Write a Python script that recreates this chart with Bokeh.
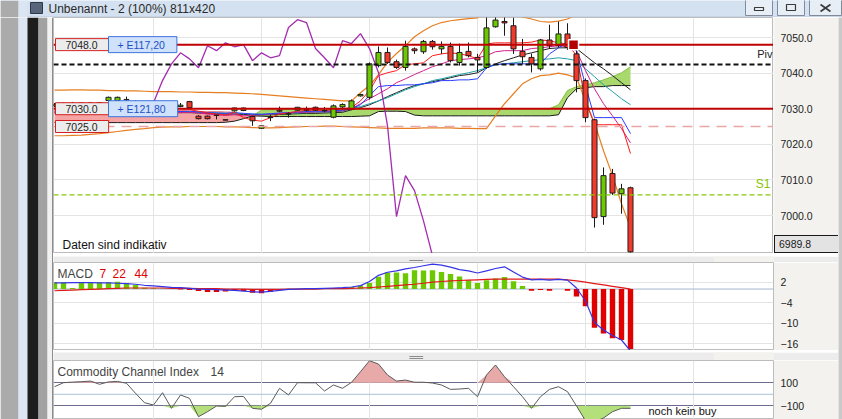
import numpy as np
from bokeh.plotting import figure
from bokeh.layouts import column, row
from bokeh.models import Range1d, FixedTicker, Span, Label, Grid, NumeralTickFormatter, Div
from bokeh.embed import file_html
from bokeh.resources import INLINE

# ------------------------------------------------------------------ data
price_ticks = [7000, 7010, 7020, 7030, 7040, 7050]
macd_ticks = [-16, -10, -4, 2]
cci_ticks = [-100, 100]
time_ticks = [11, 23, 35, 47, 59, 71]          # candle index of vertical time grid lines

opens = [7030.8, 7031.2, 7031.5, 7031.1, 7031.6, 7031.3, 7032.3, 7032.3, 7032.5, 7032.0,
         7031.4, 7030.8, 7031.0, 7030.7, 7030.6, 7032.0, 7027.9, 7027.9, 7028.2, 7026.9,
         7029.4, 7029.5, 7027.8, 7024.5, 7027.5, 7029.6, 7028.5, 7029.6, 7029.8, 7030.4,
         7029.5, 7027.6, 7030.5, 7029.9, 7033.6, 7033.2, 7042.1, 7045.8, 7043.2, 7041.6,
         7046.8, 7046.0, 7048.9, 7046.8, 7047.5, 7043.0, 7046.1, 7044.4, 7041.6, 7053.0,
         7054.5, 7053.3, 7046.1, 7044.4, 7041.2, 7049.3, 7047.7, 7051.0, 7045.4, 7037.9,
         7026.9, 6999.7, 7011.8, 7006.1, 7007.8]
highs = [7031.6, 7031.8, 7031.9, 7031.8, 7031.9, 7031.9, 7033.4, 7033.4, 7033.4, 7032.4,
         7031.8, 7031.4, 7031.6, 7031.2, 7031.6, 7032.2, 7028.2, 7028.1, 7028.3, 7027.0,
         7030.3, 7030.3, 7028.0, 7025.3, 7028.3, 7030.6, 7029.0, 7030.5, 7030.6, 7030.6,
         7030.5, 7031.2, 7031.5, 7032.6, 7034.2, 7043.0, 7047.5, 7047.2, 7043.8, 7049.1,
         7047.2, 7049.3, 7049.3, 7048.9, 7048.6, 7048.3, 7048.6, 7045.4, 7056.0, 7056.0,
         7055.8, 7055.6, 7049.6, 7045.5, 7049.6, 7053.6, 7054.5, 7054.0, 7046.8, 7038.5,
         7027.2, 7013.5, 7013.1, 7008.9, 7008.1]
lows = [7030.4, 7030.8, 7030.9, 7030.8, 7031.0, 7031.0, 7032.0, 7032.1, 7032.2, 7031.0,
        7030.4, 7030.2, 7030.5, 7030.2, 7030.4, 7030.2, 7027.0, 7027.0, 7027.0, 7026.7,
        7029.2, 7029.3, 7025.2, 7024.3, 7026.5, 7029.0, 7027.5, 7029.4, 7029.2, 7029.4,
        7029.0, 7027.3, 7030.0, 7029.6, 7033.4, 7032.6, 7041.6, 7042.6, 7041.2, 7040.7,
        7045.4, 7045.4, 7046.6, 7045.4, 7043.0, 7042.1, 7044.4, 7040.2, 7041.2, 7052.8,
        7050.5, 7045.4, 7042.6, 7040.2, 7040.7, 7046.8, 7047.2, 7046.5, 7034.6, 7026.2,
        6996.6, 6997.4, 7005.8, 7000.5, 6989.6]
closes = [7031.2, 7031.5, 7031.1, 7031.6, 7031.3, 7031.7, 7033.2, 7033.2, 7032.6, 7031.4,
          7030.8, 7031.0, 7030.7, 7030.9, 7031.0, 7030.3, 7027.2, 7027.2, 7028.1, 7026.8,
          7030.2, 7030.2, 7026.6, 7025.2, 7027.6, 7029.3, 7028.6, 7030.4, 7029.6, 7029.6,
          7029.4, 7030.8, 7031.2, 7032.2, 7034.0, 7042.6, 7045.8, 7043.0, 7041.6, 7047.5,
          7046.3, 7048.9, 7047.4, 7047.5, 7043.5, 7045.8, 7044.9, 7043.7, 7052.7, 7054.9,
          7054.1, 7046.8, 7044.6, 7042.6, 7049.3, 7047.7, 7051.0, 7047.2, 7037.9, 7027.5,
          6999.4, 7011.2, 7006.3, 7007.5, 6989.8]

ma_red = [7029.6, 7029.7, 7029.8, 7029.8, 7029.9, 7029.9, 7030.0, 7030.1, 7030.1, 7030.0,
          7029.8, 7029.6, 7029.6, 7029.5, 7029.6, 7029.7, 7029.3, 7028.8, 7028.5, 7028.2,
          7029.0, 7027.5, 7026.8, 7026.5, 7027.5, 7028.5, 7028.8, 7029.3, 7029.5, 7029.6,
          7029.5, 7029.7, 7030.0, 7030.3, 7032.2, 7035.1, 7039.3, 7040.1, 7040.7, 7042.4,
          7042.6, 7042.9, 7044.9, 7045.4, 7045.7, 7045.4, 7044.9, 7044.0, 7048.2, 7048.5,
          7048.5, 7048.5, 7048.5, 7048.7, 7049.3, 7049.1, 7048.5, 7048.2, 7044.9, 7032.2,
          7025.5, 7025.5, 7025.5, 7025.5, 7017.4]
ma_blue = [7029.2, 7029.3, 7029.3, 7029.4, 7029.4, 7029.5, 7029.5, 7029.6, 7029.6, 7029.5,
           7029.4, 7029.3, 7029.3, 7029.2, 7029.2, 7029.3, 7029.1, 7028.9, 7028.8, 7028.7,
           7028.9, 7028.7, 7028.5, 7028.4, 7028.6, 7028.8, 7028.9, 7029.1, 7029.2, 7029.3,
           7029.3, 7029.4, 7029.6, 7030.0, 7031.1, 7033.7, 7036.2, 7036.5, 7036.5, 7036.7,
           7036.7, 7037.0, 7037.3, 7037.9, 7037.9, 7038.1, 7038.1, 7038.4, 7041.5, 7042.4,
           7042.6, 7042.6, 7042.6, 7042.6, 7042.6, 7045.4, 7047.1, 7048.5, 7046.3, 7036.5,
           7027.5, 7027.5, 7027.5, 7027.5, 7023.0]
ma_pink = [7028.9, 7029.0, 7029.0, 7029.1, 7029.1, 7029.2, 7029.2, 7029.3, 7029.3, 7029.2,
           7029.1, 7029.0, 7029.0, 7028.9, 7028.9, 7029.0, 7028.8, 7028.5, 7028.3, 7028.1,
           7028.3, 7028.0, 7028.2, 7028.3, 7028.5, 7028.7, 7028.8, 7028.9, 7029.0, 7029.1,
           7029.1, 7029.2, 7029.4, 7030.0, 7031.4, 7032.8, 7034.2, 7035.6, 7037.3, 7038.4,
           7039.6, 7040.7, 7041.8, 7042.6, 7043.5, 7043.8, 7044.0, 7044.3, 7044.9, 7046.0,
           7046.3, 7046.3, 7046.3, 7046.9, 7047.1, 7047.4, 7047.7, 7047.4, 7046.3, 7040.7,
           7035.6, 7031.4, 7028.0, 7024.4, 7020.4]
ma_teal = [7029.0, 7029.0, 7029.1, 7029.1, 7029.2, 7029.2, 7029.3, 7029.3, 7029.3, 7029.3,
           7029.2, 7029.2, 7029.1, 7029.1, 7029.1, 7029.1, 7029.0, 7028.9, 7028.8, 7028.7,
           7028.7, 7028.6, 7028.5, 7028.5, 7028.5, 7028.6, 7028.7, 7028.8, 7028.9, 7029.0,
           7029.0, 7029.1, 7029.3, 7030.0, 7030.6, 7031.4, 7032.2, 7033.1, 7034.2, 7035.3,
           7036.2, 7037.0, 7037.9, 7038.4, 7039.0, 7039.6, 7040.1, 7040.7, 7041.5, 7042.4,
           7042.6, 7042.9, 7043.2, 7043.5, 7043.8, 7044.0, 7044.3, 7044.0, 7043.5, 7041.2,
           7039.0, 7036.7, 7034.8, 7032.8, 7031.1]
ma_black = [7028.8, 7028.8, 7028.9, 7028.9, 7029.0, 7029.0, 7029.0, 7029.1, 7029.1, 7029.1,
            7029.0, 7029.0, 7029.0, 7028.9, 7028.9, 7028.9, 7028.8, 7028.7, 7028.6, 7028.5,
            7028.5, 7028.4, 7028.3, 7028.3, 7028.3, 7028.4, 7028.5, 7028.6, 7028.7, 7028.7,
            7028.8, 7028.9, 7029.0, 7029.7, 7030.3, 7031.1, 7032.2, 7033.4, 7034.5, 7035.6,
            7036.5, 7037.0, 7037.6, 7038.1, 7038.7, 7039.3, 7039.6, 7040.1, 7041.5, 7042.6,
            7043.5, 7044.3, 7045.1, 7045.7, 7046.3, 7046.9, 7047.1, 7047.1, 7046.9, 7044.9,
            7042.9, 7041.2, 7039.3, 7037.3, 7035.3]
bb_upper = [7035.2, 7035.2, 7035.3, 7035.3, 7035.2, 7035.2, 7035.1, 7035.1, 7035.0, 7035.0,
            7034.9, 7034.8, 7034.8, 7034.8, 7034.7, 7034.7, 7034.6, 7034.6, 7034.5, 7034.5,
            7034.4, 7034.3, 7034.2, 7034.0, 7033.8, 7033.6, 7033.4, 7033.2, 7033.0, 7032.8,
            7032.6, 7032.4, 7032.2, 7032.2, 7034.5, 7036.5, 7039.6, 7043.0, 7045.5, 7047.7,
            7050.2, 7051.9, 7053.3, 7054.2, 7054.7, 7055.0, 7055.3, 7055.5, 7057.0, 7058.0,
            7058.0, 7057.0, 7055.8, 7055.2, 7054.5, 7054.3, 7054.6, 7055.2, 7056.5, 7060.0,
            7064.0, 7066.0, 7067.0, 7068.0, 7069.0]
bb_lower = [7022.4, 7022.4, 7022.5, 7022.6, 7022.8, 7023.0, 7023.3, 7023.6, 7023.9, 7024.2,
            7024.4, 7024.7, 7024.8, 7024.9, 7024.9, 7025.0, 7025.0, 7025.0, 7025.0, 7024.9,
            7024.9, 7024.8, 7024.7, 7024.6, 7024.6, 7024.7, 7024.8, 7024.9, 7025.0, 7025.0,
            7025.1, 7025.1, 7025.0, 7024.9, 7024.8, 7024.7, 7024.6, 7024.5, 7024.5, 7024.5,
            7024.5, 7024.6, 7024.6, 7024.6, 7024.6, 7024.5, 7024.5, 7024.4, 7024.4, 7028.0,
            7031.4, 7034.2, 7037.0, 7038.4, 7039.3, 7039.5, 7040.0, 7039.5, 7038.7, 7032.2,
            7026.0, 7018.2, 7011.2, 7003.3, 6996.6]
span_a = [7029.4, 7029.4, 7029.5, 7029.5, 7029.5, 7029.6, 7029.6, 7029.6, 7029.5, 7029.5,
          7029.4, 7029.4, 7029.4, 7029.3, 7029.3, 7029.3, 7029.2, 7029.2, 7029.2, 7029.1,
          7029.0, 7028.3, 7028.0, 7029.6, 7029.7, 7029.7, 7029.8, 7029.8, 7029.9, 7029.9,
          7029.9, 7030.0, 7030.0, 7030.0, 7030.0, 7030.0, 7030.0, 7030.0, 7030.0, 7030.0,
          7030.0, 7030.0, 7030.0, 7030.0, 7030.0, 7030.0, 7030.0, 7030.0, 7030.0, 7030.0,
          7030.0, 7030.0, 7030.0, 7030.0, 7030.0, 7030.0, 7031.1, 7035.1, 7036.2, 7036.7,
          7037.3, 7038.1, 7039.0, 7040.1, 7041.8]
span_b = [7026.1, 7026.1, 7026.1, 7026.1, 7026.1, 7026.1, 7026.1, 7026.1, 7026.1, 7026.1,
          7026.1, 7026.1, 7026.1, 7026.1, 7026.1, 7026.1, 7026.1, 7026.1, 7026.1, 7026.2,
          7026.5, 7027.2, 7028.0, 7027.9, 7027.8, 7027.8, 7027.8, 7027.8, 7027.8, 7027.8,
          7027.8, 7027.8, 7027.8, 7027.8, 7027.9, 7028.0, 7029.2, 7029.3, 7029.3, 7029.2,
          7028.2, 7028.0, 7028.0, 7028.0, 7028.0, 7028.0, 7028.0, 7028.0, 7028.0, 7028.0,
          7028.0, 7028.0, 7028.0, 7028.0, 7028.0, 7028.0, 7028.3, 7033.1, 7035.6, 7035.9,
          7036.2, 7036.2, 7036.5, 7036.5, 7036.5]
cloud_switch = 22          # candle where the cloud turns from red to green

osc_idx = list(range(11, 43))
osc_vals = [7031.7, 7037.9, 7042.6, 7045.7, 7044.0, 7041.5, 7047.7, 7046.3, 7048.5, 7047.4,
            7048.0, 7043.5, 7045.7, 7044.3, 7044.9, 7052.8, 7055.0, 7054.2, 7046.9, 7044.3,
            7041.5, 7049.1, 7048.3, 7051.1, 7046.9, 7040.1, 7025.2, 6999.7, 7011.2, 7007.0,
            6998.5, 6988.7]

position_level, position_pnl = 7048.0, "+ E117,20"
entry_level, entry_pnl = 7030.0, "+ E121,80"
stop_level = 7025.0
pivot_level = 7042.4
s1_level = 7005.8
last_price = 6989.8
trade_x = [57.67]
trade_y = [7048.0]

macd_hist = [2.0, 2.0, 0.3, 2.0, 2.0, 2.0, 2.0, 2.1, 1.8, 1.2,
             0.4, 0.2, 0.1, 0.0, -0.1, -0.3, -0.6, -0.9, -0.9, -0.7,
             -0.3, -0.6, -1.1, -1.2, -0.8, -0.3, 0.1, 0.1, 0.1, 0.0,
             0.2, 0.3, 0.4, 0.6, 1.0, 1.8, 3.6, 4.8, 4.8, 4.6,
             5.5, 5.4, 5.5, 5.0, 4.4, 3.7, 2.6, 1.8, 2.6, 3.1,
             3.5, 2.3, 0.9, -0.5, -0.3, -0.5, 0.0, -0.5, -2.2, -5.0,
             -11.3, -13.0, -14.4, -14.9, -17.5]
macd_line = [1.8, 1.8, 1.9, 1.9, 1.9, 1.8, 1.8, 1.7, 1.6, 1.4,
             1.1, 0.9, 0.7, 0.5, 0.4, 0.2, 0.0, -0.1, -0.2, -0.3,
             -0.4, -0.6, -0.8, -0.9, -0.7, -0.4, -0.1, 0.0, 0.1, 0.1,
             0.2, 0.3, 0.4, 0.6, 1.0, 2.2, 4.0, 4.9, 5.3, 5.9,
             6.3, 6.8, 7.3, 7.0, 6.4, 5.7, 5.3, 4.7, 5.3, 6.0,
             6.5, 5.0, 3.5, 2.7, 2.8, 2.6, 2.8, 2.6, 0.3, -3.5,
             -9.8, -12.0, -13.6, -14.9, -18.1]
macd_signal = [-0.5, -0.4, -0.3, -0.2, -0.1, 0.0, 0.1, 0.2, 0.3, 0.3,
               0.3, 0.3, 0.3, 0.2, 0.2, 0.2, 0.1, 0.1, 0.1, 0.0,
               0.0, 0.0, -0.1, -0.1, -0.1, -0.1, 0.0, 0.0, 0.0, 0.0,
               0.1, 0.1, 0.1, 0.2, 0.3, 0.4, 0.6, 0.8, 1.0, 1.2,
               1.4, 1.7, 2.0, 2.2, 2.4, 2.5, 2.6, 2.7, 2.8, 2.9,
               2.9, 2.9, 2.9, 2.9, 2.9, 2.9, 2.9, 2.7, 2.4, 2.0,
               1.6, 1.2, 0.8, 0.4, 0.0]
cci_vals = [66, 101, 106, 110, 115, 87, 108, 112, 96, 9,
            -73, -93, 14, -122, -6, -35, -195, -151, -102, -105,
            -21, -18, -122, -130, -78, 52, -6, 101, 100, 100,
            29, 81, 52, 104, 197, 292, 263, 168, 115, 124,
            105, 105, 98, 81, 43, 46, 52, -21, 168, 255,
            153, 66, -21, -122, -21, 43, 66, 23, -101, -230,
            -240, -206, -151, -122, -122]
cci_upper, cci_lower = 100, -100

# ------------------------------------------------------------------ geometry / style
FONT = "Liberation Sans"
AXIS_BG = "#f3f2ee"
PANEL_W, AXIS_W, LEFT_W, RIGHT_W = 720, 65, 53, 4
TITLE_H, MAIN_H, SEP1_H, MACD_H, SEP2_H, CCI_H = 17, 236, 9, 88, 10, 59
BOX_H = 18                      # height of the last-price box under the price scale
TOTAL_W = LEFT_W + PANEL_W + AXIS_W + RIGHT_W
X0 = -1.0 / 9.0
X1 = X0 + PANEL_W / 9.0
GRID = "#e4e4e4"
PRICE_TOP, PRICE_BOTTOM = 7055.62, 6989.33
PX_PER_PT = MAIN_H / (PRICE_TOP - PRICE_BOTTOM)
CCI_RANGE = (-219.1, 294.0)

idx = np.arange(len(opens))


def style_axis(ax, ticks, fmt=None, standoff=7):
    ax.ticker = FixedTicker(ticks=ticks)
    if fmt is not None:
        ax.formatter = fmt
    ax.axis_line_color = None
    ax.major_tick_line_color = None
    ax.minor_tick_line_color = None
    ax.major_tick_in = 0
    ax.major_tick_out = 0
    ax.major_label_standoff = standoff
    ax.major_label_text_font = FONT
    ax.major_label_text_font_size = "10.5px"
    ax.major_label_text_color = "#222222"


def panel(h, yr, ticks, fmt=None, with_axis=True):
    p = figure(width=PANEL_W + (AXIS_W if with_axis else 0), height=h,
               x_range=Range1d(X0, X1), y_range=yr,
               output_backend="svg", toolbar_location=None,
               x_axis_location=None, y_axis_location="right" if with_axis else None,
               min_border=0, min_border_right=AXIS_W if with_axis else 0)
    p.background_fill_color = "white"
    p.border_fill_color = AXIS_BG
    p.outline_line_color = "#bcbcbc"
    if with_axis:
        style_axis(p.yaxis[0], ticks, fmt)
    p.xgrid.grid_line_color = None
    p.ygrid.ticker = FixedTicker(ticks=ticks)
    p.ygrid.grid_line_color = GRID
    p.add_layout(Grid(dimension=0, ticker=FixedTicker(ticks=time_ticks), grid_line_color=GRID))
    return p


def lbl(p, x, y, text, xo=0, yo=0, size="12px", color="#333333", align="left",
        baseline="middle", **kw):
    p.add_layout(Label(x=x, y=y, x_offset=xo, y_offset=yo, text=text, text_font=FONT,
                       text_font_size=size, text_color=color, text_align=align,
                       text_baseline=baseline, **kw))


def chrome(w, h, bg):
    f = figure(width=w, height=h, x_range=Range1d(0, w), y_range=Range1d(h, 0),
               output_backend="svg", toolbar_location=None, x_axis_location=None,
               y_axis_location=None, min_border=0)
    f.grid.visible = False
    f.outline_line_color = None
    f.background_fill_color = bg
    f.border_fill_color = bg
    return f


# ------------------------------------------------------------------ title bar
tb = chrome(TOTAL_W, TITLE_H, "#d4e1f0")
tb.quad(left=[0, 18], right=[18, 27], top=[0, 0], bottom=[TITLE_H, TITLE_H],
        fill_color=["#ababab", "#dce6f2"], line_color=None)
tb.quad(left=[27], right=[TOTAL_W], top=[16], bottom=[17], fill_color="#b9c8da", line_color=None)
tb.quad(left=[30], right=[42], top=[2], bottom=[13], fill_color="#56657a", line_color="#2e3848")
tb.quad(left=[745, 777, 809], right=[772, 804, 841], top=[-2, -2, -2], bottom=[15, 15, 15],
        fill_color="#e8eef6", line_color="#7f8b9b")
tb.quad(left=[754, 786], right=[763, 795], top=[7, 4], bottom=[10, 10],
        fill_color=None, line_color="#3a3a3a", line_width=1.2)
tb.segment(x0=[820, 820], y0=[4, 11], x1=[830, 830], y1=[11, 4], line_color="#3a3a3a",
           line_width=1.6)
tb.add_layout(Label(x=48, y=8, text="Unbenannt - 2 (100%) 811x420", text_font=FONT,
                    text_font_size="12px", text_color="#2a2a2a", text_baseline="middle"))

# ------------------------------------------------------------------ left / right window chrome
body_h = MAIN_H + SEP1_H + MACD_H + SEP2_H + CCI_H
deco = chrome(LEFT_W, body_h, "#efefef")
deco.quad(left=[0, 18, 27, 38, 47, 52], right=[18, 27, 38, 47, 52, 53],
          top=[0] * 6, bottom=[body_h] * 6,
          fill_color=["#ababab", "#dce6f2", "#1d1d1d", "#a2a2a2", "#f2f2f2", "#2a2a2a"],
          line_color=None)
rdeco = chrome(RIGHT_W, body_h, "#c9c9c9")

# ------------------------------------------------------------------ main price chart
main = panel(MAIN_H, Range1d(PRICE_BOTTOM, PRICE_TOP), price_ticks, with_axis=False)

sa, sb = np.array(span_a), np.array(span_b)
k = cloud_switch
main.varea(x=idx[:k + 1], y1=sb[:k + 1], y2=sa[:k + 1], fill_color="#f5a3a3")
main.varea(x=idx[k:], y1=sb[k:], y2=sa[k:], fill_color="#a9d96c")
main.line(idx[k:], sa[k:], line_color="#86c040", line_width=1)
main.line(idx[:k + 1], sa[:k + 1], line_color="#e48080", line_width=1)
main.line(idx, sb, line_color="#1a1a1a", line_width=1)

main.line(idx, bb_upper, line_color="#e67e22", line_width=1.2)
main.line(idx, bb_lower, line_color="#e67e22", line_width=1.2)
main.line(idx, ma_black, line_color="#202020", line_width=1)
main.line(idx, ma_teal, line_color="#1fa0a8", line_width=1)
main.line(idx, ma_pink, line_color="#d0208c", line_width=1)
main.line(idx, ma_blue, line_color="#2a3cff", line_width=1)
main.line(idx, ma_red, line_color="#ff1a1a", line_width=1)
main.line(osc_idx, osc_vals, line_color="#a42cb0", line_width=1.3)

o, c = np.array(opens), np.array(closes)
up = c >= o
top_b, bot_b = np.maximum(o, c), np.minimum(o, c)
main.segment(x0=idx, y0=lows, x1=idx, y1=highs, line_color="#1a1a1a", line_width=1)
main.vbar(x=idx[up], top=top_b[up], bottom=bot_b[up], width=0.56,
          fill_color="#6cc800", line_color="#1f1f1f", line_width=1)
main.vbar(x=idx[~up], top=top_b[~up], bottom=bot_b[~up], width=0.56,
          fill_color="#ef3b2c", line_color="#2a1a1a", line_width=1)

main.add_layout(Span(location=stop_level, dimension="width", line_color="#e8a6a6",
                     line_width=1.5, line_dash="10 7"))
main.add_layout(Span(location=s1_level, dimension="width", line_color="#86cc00",
                     line_width=1.3, line_dash="5 3"))
main.add_layout(Span(location=pivot_level, dimension="width", line_color="#111111",
                     line_width=2, line_dash="5 3"))
main.add_layout(Span(location=position_level, dimension="width", line_color="#c00000", line_width=2))
main.add_layout(Span(location=entry_level, dimension="width", line_color="#c00000", line_width=2))

mk = main.scatter(trade_x, trade_y, marker="square", size=10, fill_color="#b40000",
                  line_color="white", line_width=1.5)
mk.level = "overlay"

for lev, pnl in [(position_level, position_pnl), (entry_level, entry_pnl), (stop_level, None)]:
    lbl(main, X0, lev, f"{lev:.1f}", xo=2, size="10.5px", color="#1e1e1e",
        background_fill_color="#ececec", border_line_color="#d42020", border_line_width=1,
        padding=dict(left=10, right=11, top=2, bottom=2))
    if pnl:
        lbl(main, X0, lev, pnl, xo=55, size="10.5px", color="#1c4fc4",
            background_fill_color="#cfe1fb", border_line_color="#3d74dc", border_line_width=1,
            padding=dict(left=9, right=12, top=2, bottom=2))

lbl(main, X1, pivot_level, "Piv", xo=-1, yo=11, size="11px", color="#222222", align="right")
lbl(main, X1, s1_level, "S1", xo=-3, yo=11, size="12px", color="#86c400", align="right")
lbl(main, X0, PRICE_BOTTOM, "Daten sind indikativ", xo=9, yo=9, size="12px", color="#111111")

# price scale of the main chart (same points-per-pixel as the chart) + last price box
scale_h = MAIN_H - BOX_H
main_scale = figure(width=AXIS_W, height=scale_h, x_range=Range1d(0, 1),
                    y_range=Range1d(PRICE_TOP - scale_h / PX_PER_PT, PRICE_TOP),
                    output_backend="svg", toolbar_location=None, x_axis_location=None,
                    y_axis_location="right", min_border=0, min_border_right=AXIS_W - 1)
main_scale.grid.visible = False
main_scale.outline_line_color = None
main_scale.background_fill_color = AXIS_BG
main_scale.border_fill_color = AXIS_BG
style_axis(main_scale.yaxis[0], price_ticks, NumeralTickFormatter(format="0.0"), standoff=6)

last_box = Div(text=f"{last_price:.1f}", width=AXIS_W - 1, height=BOX_H, margin=(0, 0, 0, 1),
               styles={"background-color": "#e3e3e3", "border": "1px solid #1a1a1a",
                       "border-right": "none", "box-sizing": "border-box",
                       "font-family": FONT, "font-size": "10.5px", "color": "#1a1a1a",
                       "line-height": "16px", "padding-left": "4px", "overflow": "hidden",
                       "white-space": "nowrap"})


# ------------------------------------------------------------------ separators
def separator(h):
    s = chrome(PANEL_W + AXIS_W, h, "#ececec")
    s.quad(left=[PANEL_W], right=[PANEL_W + AXIS_W], top=[0], bottom=[h],
           fill_color=AXIS_BG, line_color=None)
    s.segment(x0=[388] * 3, y0=[4, 6, 8], x1=[403] * 3, y1=[4, 6, 8],
              line_color="#8c8c8c", line_width=1)
    return s


sep1 = separator(SEP1_H)
sep2 = separator(SEP2_H)

# ------------------------------------------------------------------ MACD
macd = panel(MACD_H, Range1d(-17.97, 7.76), macd_ticks)
macd.add_layout(Span(location=0, dimension="width", line_color="#a6b6cc", line_width=1,
                     level="underlay"))
h = np.array(macd_hist)
pos = h >= 0
macd.vbar(x=idx[pos], top=h[pos], bottom=0, width=0.6, fill_color="#6cc800", line_color=None)
macd.vbar(x=idx[~pos], top=0, bottom=h[~pos], width=0.6, fill_color="#e00000", line_color=None)
macd.line(idx, macd_signal, line_color="#e01818", line_width=1.2)
macd.line(idx, macd_line, line_color="#3434e6", line_width=1.2)
lbl(macd, X0, 7.76, "MACD", xo=4, yo=-11, size="12px", color="#444444")
for txt, xo in [("7", 46), ("22", 59), ("44", 81)]:
    lbl(macd, X0, 7.76, txt, xo=xo, yo=-11, size="12px", color="#dd0000")

# ------------------------------------------------------------------ CCI
cci = panel(CCI_H, Range1d(*CCI_RANGE), cci_ticks)
cci.ygrid.grid_line_color = "#6c6c8e"
cci.add_layout(Span(location=0, dimension="width", line_color="#a9c3d6", line_width=1,
                    level="underlay"))
cv = np.array(cci_vals, dtype=float)
cci.varea(x=idx, y1=cci_upper, y2=np.maximum(cv, cci_upper), fill_color="#e8a9a9")
cci.varea(x=idx, y1=np.minimum(cv, cci_lower), y2=cci_lower, fill_color="#b3e07a")
cci.line(idx, cv, line_color="#5a5a5a", line_width=1)
lbl(cci, X0, CCI_RANGE[1], "Commodity Channel Index", xo=4, yo=-11, size="12px", color="#444444")
lbl(cci, X0, CCI_RANGE[1], "14", xo=157, yo=-11, size="12px", color="#444444")
lbl(cci, X0, CCI_RANGE[0], "noch kein buy", xo=595, yo=8.5, size="11px", color="#111111")

# ------------------------------------------------------------------ layout
main_row = row(main, column(main_scale, last_box))
layout = column(tb, row(deco, column(main_row, sep1, macd, sep2, cci), rdeco))

open("out.html", "w").write(file_html(layout, INLINE))
